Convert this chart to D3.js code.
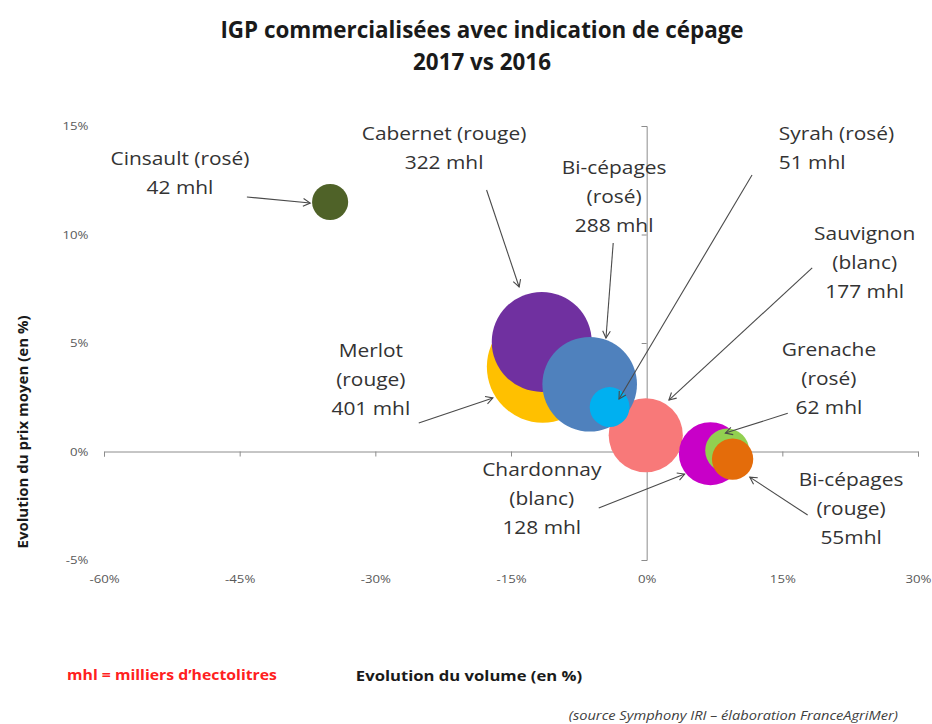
<!DOCTYPE html>
<html>
<head>
<meta charset="utf-8">
<script src="https://cdn.jsdelivr.net/npm/d3@7"></script>
<style>
  html, body { margin: 0; padding: 0; background: #fff; }
  svg { display: block; }
  text { font-family: "Open Sans", "Lato", sans-serif; }
</style>
</head>
<body>
<svg id="chart" width="932" height="724"></svg>
<script>
// ---- Data ----
const names   = ["Merlot (rouge)", "Cabernet (rouge)", "Sauvignon (blanc)", "Bi-cépages (rosé)", "Syrah (rosé)",
                 "Chardonnay (blanc)", "Grenache (rosé)", "Bi-cépages (rouge)", "Cinsault (rosé)"];
const volumeEvol = [-11.5, -11.6, -0.1, -6.3, -4.1, 7.05, 8.9, 9.5, -35.0];   // Evolution du volume (%)
const priceEvol  = [3.9, 5.05, 0.75, 3.1, 2.05, -0.1, 0.05, -0.35, 11.5];     // Evolution du prix moyen (%)
const volumes    = [401, 322, 177, 288, 51, 128, 62, 55, 42];                // mhl
const colors     = ["#FFC000", "#7030A0", "#F87979", "#4F81BD", "#00B0F0", "#C800C8", "#92D050", "#E46C0A", "#4F6228"];

const xTicks = [-60, -45, -30, -15, 0, 15, 30];
const yTicks = [-5, 0, 5, 10, 15];

// annotation labels: text lines, anchor (data units), anchor type, arrow start/end (data units)
const labelLines = [
  ["Merlot", "(rouge)", "401 mhl"],
  ["Cabernet (rouge)", "322 mhl"],
  ["Sauvignon", "(blanc)", "177 mhl"],
  ["Bi-cépages", "(rosé)", "288 mhl"],
  ["Syrah (rosé)", "51 mhl"],
  ["Chardonnay", "(blanc)", "128 mhl"],
  ["Grenache", "(rosé)", "62 mhl"],
  ["Bi-cépages", "(rouge)", "55mhl"],
  ["Cinsault (rosé)", "42 mhl"]
];
const labelPos   = [[-30.5, 4.68], [-22.4, 14.68], [24.1, 10.07], [-3.6, 13.11], [14.6, 14.68],
                    [-11.6, -0.81], [20.15, 4.72], [22.6, -1.27], [-51.6, 13.52]];
const labelAnchor = ["middle", "middle", "middle", "middle", "start", "middle", "middle", "middle", "middle"];
const arrowFrom  = [[-25.2, 1.31], [-17.7, 12.05], [18.3, 8.46], [-3.7, 9.61], [11.65, 12.74],
                    [-5.3, -2.6], [15.6, 1.76], [17.8, -2.93], [-44.2, 11.73]];
const arrowTo    = [[-17.0, 2.47], [-14.1, 7.58], [2.46, 2.37], [-4.5, 5.23], [-3.06, 2.42],
                    [4.2, -1.04], [8.7, 0.85], [11.4, -1.18], [-37.2, 11.45]];

// ---- Chart ----
const svg = d3.select("#chart");
const x = d3.scaleLinear().domain([-60, 30]).range([104, 918]);
const y = d3.scaleLinear().domain([-5, 15]).range([560, 126]);
const r = d3.scaleSqrt().domain([0, 322]).range([0, 50]);

const axisColor = "#8C8C8C";
const tickText = "#595959";

// helper: text horizontally stretched around its anchor
function addText(parent, px, py, str, o) {
  const t = parent.append("text")
    .attr("transform", `translate(${px},${py}) scale(${o.sx || 1},1)`)
    .attr("text-anchor", o.anchor || "start")
    .attr("font-size", o.size)
    .attr("fill", o.fill || "#1a1a1a");
  if (o.bold) t.attr("font-weight", "bold");
  if (o.italic) t.attr("font-style", "italic");
  if (o.central) t.attr("dominant-baseline", "central");
  t.text(str);
  return t;
}

// Title
addText(svg, 482, 38, "IGP commercialisées avec indication de cépage", { anchor: "middle", size: 22.4, bold: true });
addText(svg, 482, 70, "2017 vs 2016", { anchor: "middle", size: 22.4, bold: true });

// axis lines through zero with small tick marks
const gx = svg.append("g").attr("transform", `translate(0,${y(0)})`)
  .call(d3.axisBottom(x).tickValues(xTicks).tickSize(5).tickFormat(""));
gx.select(".domain").attr("stroke", axisColor);
gx.selectAll(".tick line").attr("stroke", axisColor);

const gy = svg.append("g").attr("transform", `translate(${x(0)},0)`)
  .call(d3.axisLeft(y).tickValues(yTicks).tickSize(5).tickFormat(""));
gy.select(".domain").attr("stroke", axisColor);
gy.selectAll(".tick line").attr("stroke", axisColor);

// tick labels at the plot edges
const gxl = svg.append("g").attr("transform", `translate(0,572)`)
  .call(d3.axisBottom(x).tickValues(xTicks).tickSize(0).tickFormat(d => d + "%"));
gxl.select(".domain").remove();
gxl.selectAll("text").attr("font-family", "Open Sans").attr("font-size", 11).attr("fill", tickText)
  .attr("transform", "scale(1.2,1)");

const gyl = svg.append("g").attr("transform", `translate(92,0)`)
  .call(d3.axisLeft(y).tickValues(yTicks).tickSize(0).tickFormat(d => d + "%"));
gyl.select(".domain").remove();
gyl.selectAll("text").attr("font-family", "Open Sans").attr("font-size", 11).attr("fill", tickText)
  .attr("transform", "scale(1.2,1)");

// bubbles
const data = names.map((n, i) => ({ name: n, vx: volumeEvol[i], vy: priceEvol[i], vol: volumes[i], color: colors[i] }));
svg.append("g").selectAll("circle").data(data).join("circle")
  .attr("cx", d => x(d.vx)).attr("cy", d => y(d.vy)).attr("r", d => r(d.vol))
  .attr("fill", d => d.color);

// arrows
const arrowColor = "#4a4a4a";
const ag = svg.append("g");
arrowFrom.forEach((f, i) => {
  const x1 = x(f[0]), y1 = y(f[1]), x2 = x(arrowTo[i][0]), y2 = y(arrowTo[i][1]);
  ag.append("line").attr("x1", x1).attr("y1", y1).attr("x2", x2).attr("y2", y2)
    .attr("stroke", arrowColor).attr("stroke-width", 1.1);
  const ang = Math.atan2(y2 - y1, x2 - x1);
  const L = 8, a = 0.5;
  const p = [
    [x2 - L * Math.cos(ang - a), y2 - L * Math.sin(ang - a)],
    [x2, y2],
    [x2 - L * Math.cos(ang + a), y2 - L * Math.sin(ang + a)]
  ];
  ag.append("path").attr("d", d3.line()(p)).attr("fill", "none")
    .attr("stroke", arrowColor).attr("stroke-width", 1.1);
});

// labels
const lg = svg.append("g");
labelLines.forEach((lines, i) => {
  lines.forEach((ln, j) => {
    addText(lg, x(labelPos[i][0]), y(labelPos[i][1]) + j * 29, ln,
      { anchor: labelAnchor[i], size: 19, sx: 1.1, fill: "#333", central: true });
  });
});

// axis titles
addText(svg, 469, 681, "Evolution du volume (en %)", { anchor: "middle", size: 15, bold: true, sx: 1.11 });
svg.append("text").attr("transform", "translate(28,432) rotate(-90)").attr("text-anchor", "middle")
  .attr("font-size", 15).attr("font-weight", "bold").attr("fill", "#1a1a1a")
  .text("Evolution du prix moyen (en %)");

// footnotes
addText(svg, 67, 680, "mhl = milliers d’hectolitres", { size: 14.5, bold: true, sx: 1.09, fill: "#FF2020" });
addText(svg, 898, 720, "(source Symphony IRI – élaboration FranceAgriMer)",
  { anchor: "end", size: 12.5, italic: true, sx: 1.17, fill: "#404040" });
</script>
</body>
</html>
